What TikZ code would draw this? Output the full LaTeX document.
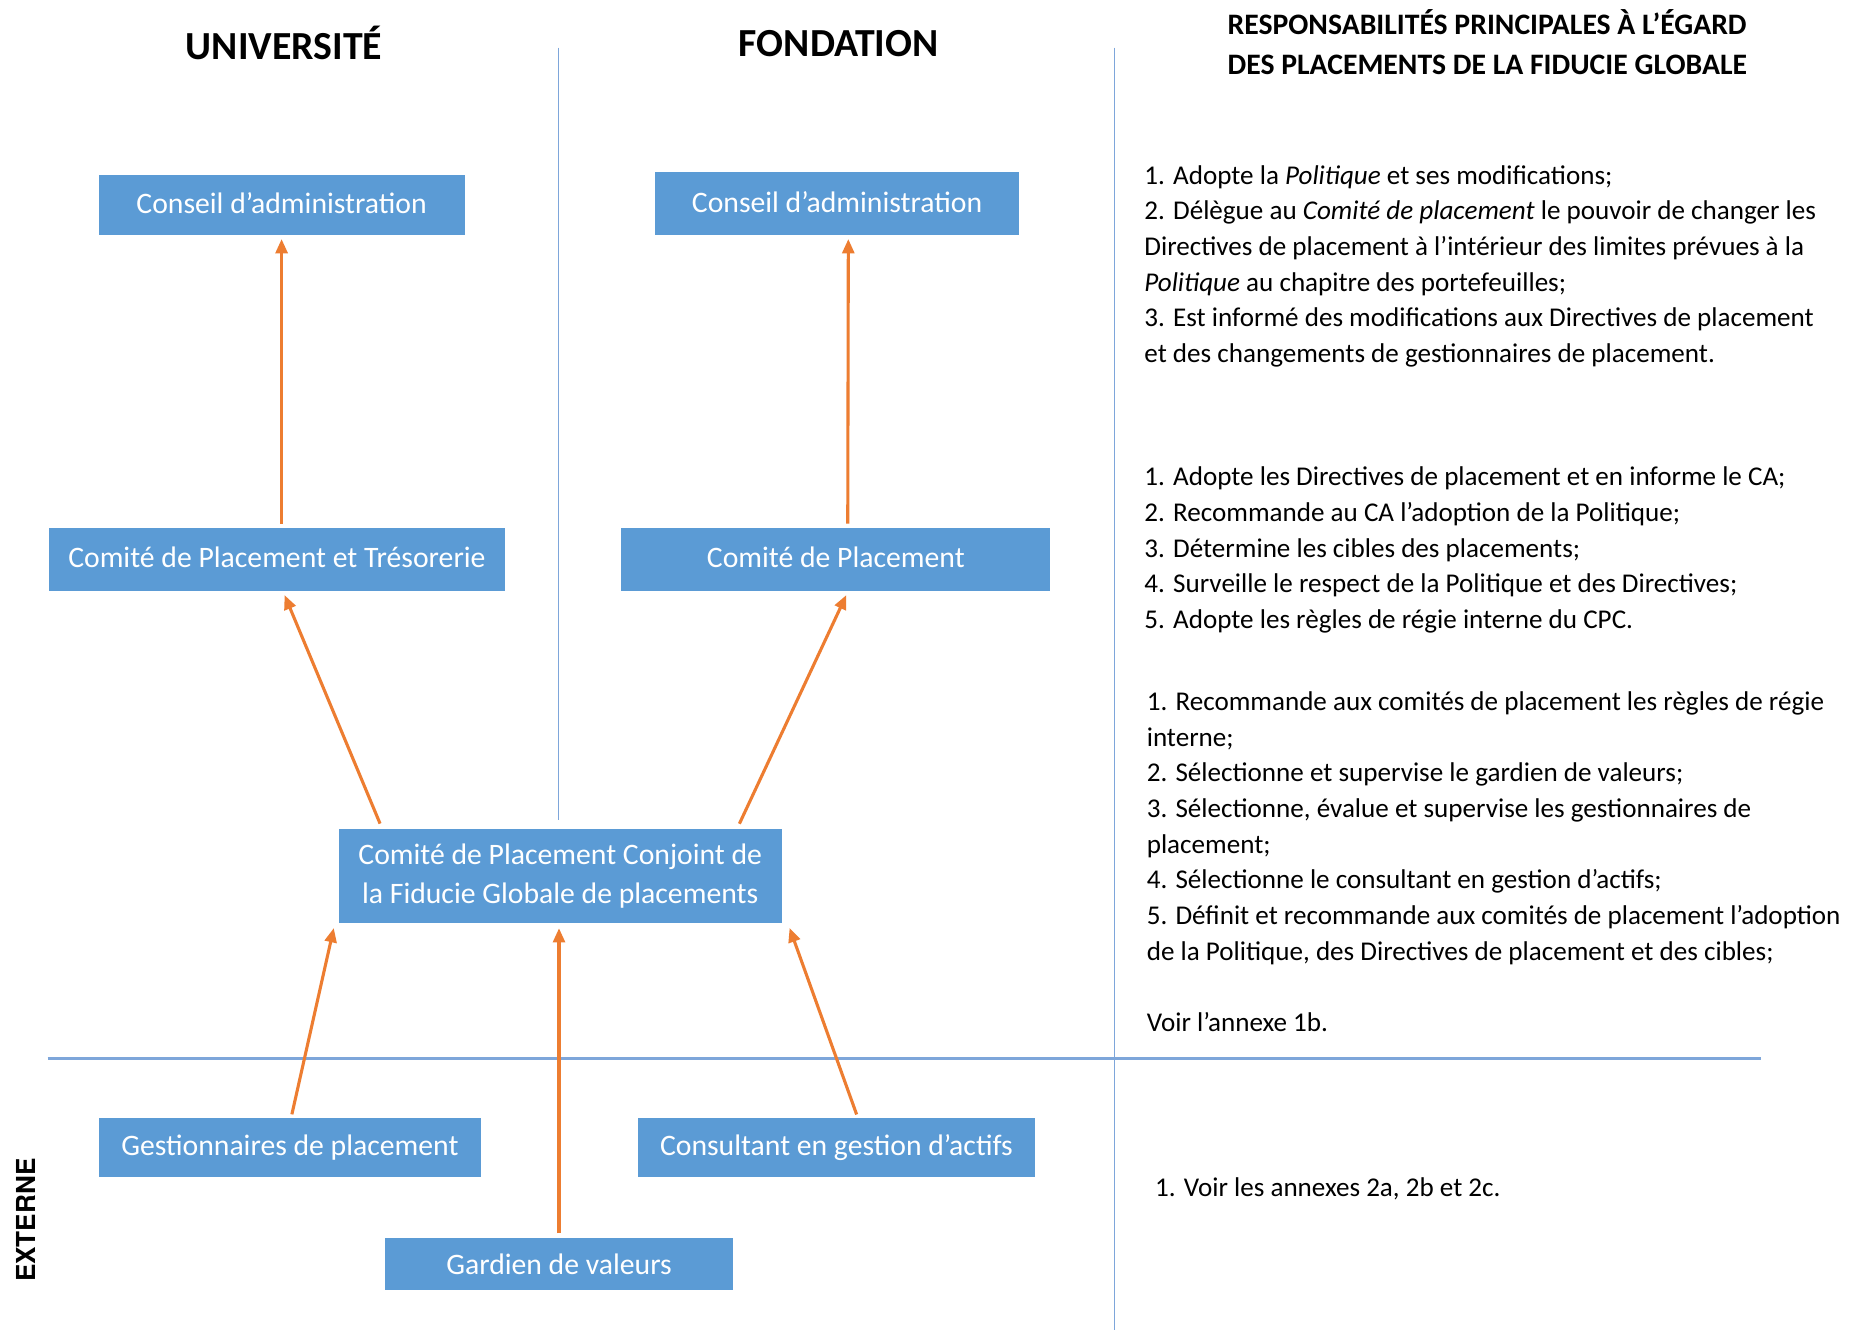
\documentclass[tikz,border=0pt]{standalone}
\usepackage{fontspec}
\setmainfont{Carlito}
\newfontfamily\herosfont{TeX Gyre Heros}
\usetikzlibrary{arrows.meta,calc}
\definecolor{boxblue}{HTML}{5B9BD5}
\definecolor{arrorange}{HTML}{ED7D31}
\definecolor{sepblue}{HTML}{7EA6DA}
\newcommand{\liftup}[1]{\raisebox{3pt}{#1}}
\begin{document}
\begin{tikzpicture}[x=1pt,y=-1pt,
  box/.style={fill=boxblue, text=white, inner sep=0pt, font=\fontsize{25}{33}\selectfont, align=center},
  arr/.style={draw=arrorange, line width=2.6pt, -{Triangle[length=12pt,width=10pt]}},
  sep/.style={draw=sepblue, line width=1.2pt},
  body/.style={anchor=north west, inner sep=0pt, align=left, font=\fontsize{22.8}{30}\selectfont},
  head/.style={font=\bfseries\fontsize{33.5}{36}\selectfont, inner sep=0pt}]
\fill[white] (0,0) rectangle (1568,1119);
\useasboundingbox (0,0) rectangle (1568,1119);
% separators
\draw[sep] (470,40) -- (470,690);
\draw[sep] (938,40) -- (938,1119);
\draw[sep, line width=2pt] (40,891) -- (1482,891);
% headers
\node[head] (hu) at (239,36) {UNIVERSITÉ};
\node[head] (hf) at (706,37) {FONDATION};
\node[anchor=west, inner sep=0pt, align=left, font=\bfseries\fontsize{25}{34}\selectfont] (hr) at (1033,35.5) {RESPONSABILITÉS PRINCIPALES À L’ÉGARD\\DES PLACEMENTS DE LA FIDUCIE GLOBALE};
\node[rotate=90, inner sep=0pt, font=\herosfont\bfseries\fontsize{22}{24}\selectfont] (ext) at (22,1027) {EXTERNE};
% boxes
\node[box, minimum width=308pt, minimum height=51pt] (uca) at (237,172.5) {\liftup{Conseil d’administration}};
\node[box, minimum width=307pt, minimum height=53pt] (fca) at (704.5,171.5) {\liftup{Conseil d’administration}};
\node[box, minimum width=384pt, minimum height=53pt] (ucpt) at (233,470.5) {\liftup{Comité de Placement et Trésorerie}};
\node[box, minimum width=361pt, minimum height=53pt] (fcp) at (703.5,470.5) {\liftup{Comité de Placement}};
\node[box, minimum width=373pt, minimum height=79pt] (cpc) at (471.5,737.5) {Comité de Placement Conjoint de\\la Fiducie Globale de placements};
\node[box, minimum width=322pt, minimum height=50pt] (gest) at (244,966) {Gestionnaires de placement};
\node[box, minimum width=334pt, minimum height=50pt] (cons) at (704,966) {Consultant en gestion d’actifs};
\node[box, minimum width=293pt, minimum height=44pt] (gard) at (470.5,1064) {Gardien de valeurs};
% arrows
\draw[arr, shorten <=3pt, shorten >=3pt] (uca.south |- ucpt.north) -- (uca.south);
\draw[arr, shorten <=3pt, shorten >=3pt] ([xshift=10pt]fcp.north) -- ([xshift=9.5pt]fca.south);
\draw[arr, shorten <=5pt, shorten >=4pt] ([xshift=37pt]cpc.north west) -- ([xshift=5pt]ucpt.south);
\draw[arr, shorten <=5pt, shorten >=4pt] ([xshift=-38pt]cpc.north east) -- ([xshift=10.5pt]fcp.south);
\draw[arr, shorten <=3pt, shorten >=4pt] ([xshift=1pt]gest.north) -- ([xshift=-3pt]cpc.south west);
\draw[arr, shorten <=4pt, shorten >=4pt] (gard.north) -- (gard.north |- cpc.south);
\draw[arr, shorten <=3pt, shorten >=4pt] ([xshift=18pt]cons.north) -- ([xshift=5pt]cpc.south east);
% right texts
\node[body] (t1) at (963,139) {1. Adopte la \textit{Politique} et ses modifications;\\
2. Délègue au \textit{Comité de placement} le pouvoir de changer les\\
Directives de placement à l’intérieur des limites prévues à la\\
\textit{Politique} au chapitre des portefeuilles;\\
3. Est informé des modifications aux Directives de placement\\
et des changements de gestionnaires de placement.};
\node[body] (t2) at (963,393) {1. Adopte les Directives de placement et en informe le CA;\\
2. Recommande au CA l’adoption de la Politique;\\
3. Détermine les cibles des placements;\\
4. Surveille le respect de la Politique et des Directives;\\
5. Adopte les règles de régie interne du CPC.};
\node[body] (t3) at (965,582) {1. Recommande aux comités de placement les règles de régie\\
interne;\\
2. Sélectionne et supervise le gardien de valeurs;\\
3. Sélectionne, évalue et supervise les gestionnaires de\\
placement;\\
4. Sélectionne le consultant en gestion d’actifs;\\
5. Définit et recommande aux comités de placement l’adoption\\
de la Politique, des Directives de placement et des cibles;\\
\mbox{}\\
Voir l’annexe 1b.};
\node[body] (t4) at (972,991) {1. Voir les annexes 2a, 2b et 2c.};
\end{tikzpicture}
\end{document}
